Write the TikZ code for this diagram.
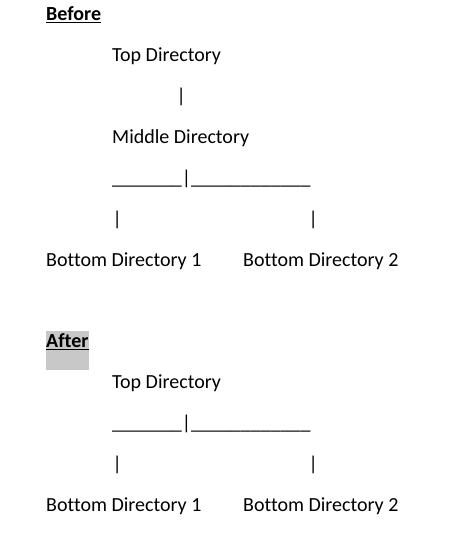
\documentclass[tikz,border=0pt]{standalone}
\usepackage{fontspec}
\setmainfont{Carlito}[Ligatures={TeX,NoCommon}]
\definecolor{hlgray}{RGB}{200,200,200}
\usetikzlibrary{positioning}

\begin{document}
\begin{tikzpicture}[x=1pt,y=-1pt]
  \tikzstyle{line}=[anchor=base west,inner sep=0pt,font=\fontsize{20}{24}\selectfont]
  \tikzstyle{heading}=[line,font=\fontsize{20}{24}\selectfont\bfseries]
  \useasboundingbox (0,0) rectangle (456,540);

  % before
  \node[heading] (before) at (46,20.5) {\underline{Before}};
  \node[line] (top1) at (112,61.5) {Top Directory};
  \node[line] (bar1) at (176.5,102.5) {|};
  \node[line] (mid1) at (112,143.5) {Middle Directory};
  \node[line] (split1) at (112,184.5) {\_\_\_\_\_\_\_|\_\_\_\_\_\_\_\_\_\_\_\_};
  \node[line] (barl1) at (112.5,225.5) {|};
  \node[line] (barr1) at (308.5,225.5) {|};
  \node[line] (botl1) at (46,266.5) {Bottom Directory 1};
  \node[line] (botr1) at (243,266.5) {Bottom Directory 2};

  % after
  \node[heading,fill=hlgray,text height=17pt,text depth=22pt] (after) at (46,347.5) {\underline{After}};
  \node[line] (top2) at (112,388.5) {Top Directory};
  \node[line] (split2) at (112,429.5) {\_\_\_\_\_\_\_|\_\_\_\_\_\_\_\_\_\_\_\_};
  \node[line] (barl2) at (112.5,470.5) {|};
  \node[line] (barr2) at (308.5,470.5) {|};
  \node[line] (botl2) at (46,511.5) {Bottom Directory 1};
  \node[line] (botr2) at (243,511.5) {Bottom Directory 2};
\end{tikzpicture}
\end{document}
